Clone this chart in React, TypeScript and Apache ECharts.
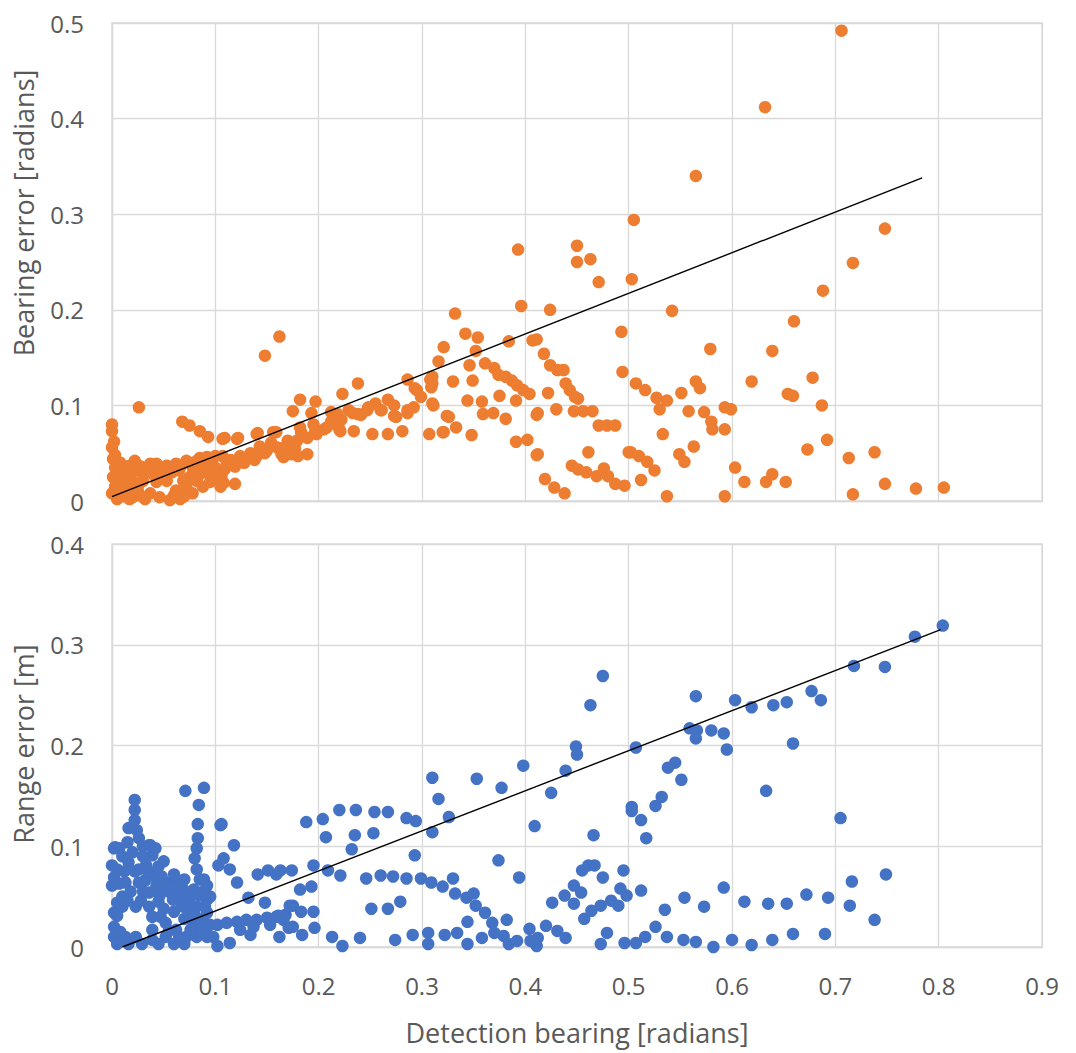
import React, { useEffect, useRef } from "react";
import * as echarts from "echarts";

// Detection bearing [radians] vs bearing error [radians]
const bearingErrorPoints: [number, number][] = [
  [0.000,0.080],[0.000,0.073],[0.000,0.056],[0.001,0.044],[0.003,0.035],[0.001,0.025],[0.003,0.015],[0.002,0.062],
  [0.000,0.008],[0.005,0.002],[0.010,0.010],[0.012,0.005],[0.007,0.008],[0.017,0.002],[0.027,0.006],[0.037,0.008],
  [0.046,0.004],[0.056,0.001],[0.066,0.002],[0.062,0.011],[0.072,0.015],[0.082,0.021],[0.085,0.028],[0.092,0.032],
  [0.098,0.025],[0.075,0.025],[0.069,0.021],[0.053,0.021],[0.043,0.020],[0.030,0.021],[0.014,0.018],[0.007,0.025],
  [0.014,0.032],[0.030,0.028],[0.026,0.098],[0.022,0.042],[0.022,0.032],[0.020,0.021],[0.037,0.039],[0.043,0.039],
  [0.053,0.037],[0.062,0.039],[0.072,0.042],[0.082,0.042],[0.092,0.046],[0.100,0.047],[0.068,0.083],[0.075,0.079],
  [0.085,0.073],[0.093,0.067],[0.107,0.065],[0.121,0.065],[0.140,0.070],[0.156,0.072],[0.105,0.015],[0.119,0.018],
  [0.020,0.012],[0.025,0.015],[0.033,0.030],[0.040,0.028],[0.048,0.031],[0.058,0.030],[0.065,0.032],[0.078,0.035],
  [0.088,0.038],[0.095,0.040],[0.011,0.030],[0.008,0.040],[0.016,0.026],[0.050,0.026],[0.004,0.012],[0.020,0.004],
  [0.032,0.002],[0.078,0.008],[0.005,0.005],[0.015,0.008],[0.025,0.010],[0.060,0.006],[0.070,0.005],[0.088,0.015],
  [0.095,0.020],[0.045,0.035],[0.055,0.033],[0.035,0.034],[0.028,0.036],[0.017,0.037],[0.003,0.048],[0.010,0.020],
  [0.085,0.045],[0.075,0.040],[0.066,0.036],[0.090,0.030],[0.100,0.035],[0.080,0.028],
  [0.111,0.039],[0.121,0.042],[0.130,0.044],[0.140,0.047],[0.150,0.053],[0.160,0.056],[0.169,0.058],[0.179,0.063],
  [0.189,0.066],[0.198,0.070],[0.208,0.077],[0.215,0.084],[0.218,0.091],[0.107,0.047],[0.115,0.043],[0.124,0.047],
  [0.134,0.050],[0.143,0.057],[0.154,0.061],[0.148,0.050],[0.138,0.043],[0.128,0.040],[0.119,0.036],[0.109,0.033],
  [0.106,0.026],[0.170,0.050],[0.180,0.047],[0.177,0.055],[0.164,0.049],[0.174,0.049],[0.189,0.049],[0.108,0.019],
  [0.148,0.152],[0.162,0.172],[0.182,0.106],[0.197,0.104],[0.175,0.094],[0.193,0.092],[0.109,0.066],[0.122,0.066],
  [0.141,0.071],[0.159,0.072],[0.170,0.063],[0.183,0.072],[0.196,0.071],[0.182,0.077],[0.195,0.080],[0.166,0.046],
  [0.205,0.075],[0.212,0.083],[0.220,0.075],[0.234,0.073],[0.252,0.070],[0.267,0.070],[0.281,0.073],[0.223,0.112],
  [0.238,0.123],[0.222,0.085],[0.233,0.092],[0.241,0.090],[0.247,0.095],[0.255,0.102],[0.267,0.106],[0.273,0.100],
  [0.260,0.095],[0.273,0.089],[0.286,0.095],[0.292,0.098],[0.286,0.127],[0.295,0.116],[0.299,0.109],[0.212,0.093],
  [0.229,0.095],[0.238,0.091],[0.248,0.098],[0.261,0.095],[0.275,0.088],[0.286,0.092],[0.293,0.118],[0.221,0.073],
  [0.216,0.081],
  [0.307,0.070],[0.320,0.072],[0.308,0.127],[0.310,0.102],[0.316,0.146],[0.324,0.089],[0.332,0.196],[0.342,0.175],
  [0.354,0.171],[0.321,0.161],[0.352,0.157],[0.346,0.142],[0.384,0.167],[0.361,0.144],[0.370,0.139],[0.374,0.132],
  [0.381,0.130],[0.387,0.126],[0.392,0.121],[0.398,0.116],[0.310,0.130],[0.310,0.123],[0.309,0.119],[0.330,0.125],
  [0.349,0.126],[0.375,0.110],[0.344,0.105],[0.358,0.104],[0.391,0.105],[0.359,0.091],[0.369,0.092],[0.381,0.086],
  [0.311,0.100],[0.326,0.088],[0.333,0.077],[0.348,0.069],[0.321,0.072],[0.391,0.062],[0.393,0.263],[0.396,0.204],
  [0.404,0.112],[0.407,0.168],[0.411,0.169],[0.418,0.154],[0.424,0.142],[0.431,0.137],[0.437,0.137],[0.439,0.123],
  [0.443,0.116],[0.448,0.109],[0.451,0.107],[0.422,0.113],[0.430,0.096],[0.447,0.094],[0.456,0.094],[0.465,0.094],
  [0.411,0.090],[0.402,0.064],[0.411,0.048],[0.419,0.023],[0.428,0.014],[0.438,0.008],[0.445,0.037],[0.451,0.033],
  [0.459,0.030],[0.469,0.026],[0.476,0.034],[0.480,0.026],[0.487,0.018],[0.496,0.016],[0.461,0.051],[0.471,0.079],
  [0.479,0.079],[0.487,0.079],[0.424,0.200],[0.450,0.267],[0.450,0.250],[0.463,0.253],[0.471,0.229],[0.493,0.177],
  [0.494,0.135],[0.412,0.092],[0.500,0.051],[0.412,0.049],
  [0.505,0.294],[0.503,0.232],[0.507,0.123],[0.516,0.116],[0.527,0.108],[0.537,0.105],[0.530,0.096],[0.551,0.113],
  [0.565,0.125],[0.569,0.118],[0.558,0.094],[0.573,0.093],[0.580,0.083],[0.581,0.075],[0.593,0.075],[0.593,0.098],
  [0.599,0.096],[0.542,0.199],[0.565,0.340],[0.579,0.159],[0.533,0.070],[0.502,0.051],[0.510,0.047],[0.518,0.041],
  [0.525,0.032],[0.512,0.022],[0.537,0.005],[0.549,0.049],[0.554,0.041],[0.563,0.057],[0.593,0.005],
  [0.603,0.035],[0.612,0.020],[0.633,0.020],[0.639,0.028],[0.652,0.020],[0.673,0.054],[0.692,0.064],[0.713,0.045],
  [0.717,0.007],[0.738,0.051],[0.748,0.018],[0.778,0.013],[0.805,0.014],[0.619,0.125],[0.654,0.112],[0.659,0.110],
  [0.678,0.129],[0.687,0.100],[0.660,0.188],[0.639,0.157],[0.688,0.220],[0.717,0.249],[0.748,0.285],[0.632,0.412],
  [0.706,0.492],
];

// Detection bearing [radians] vs range error [m]
const rangeErrorPoints: [number, number][] = [
  [0.022,0.146],[0.022,0.136],[0.022,0.126],[0.024,0.116],[0.016,0.118],[0.026,0.108],[0.015,0.104],[0.002,0.098],
  [0.007,0.098],[0.000,0.081],[0.002,0.069],[0.000,0.061],[0.005,0.077],[0.005,0.044],[0.002,0.034],[0.002,0.020],
  [0.002,0.010],[0.005,0.003],[0.016,0.003],[0.023,0.010],[0.013,0.010],[0.036,0.101],[0.039,0.091],[0.033,0.081],
  [0.022,0.075],[0.013,0.064],[0.026,0.064],[0.026,0.077],[0.016,0.084],[0.039,0.071],[0.043,0.061],[0.052,0.064],
  [0.062,0.064],[0.069,0.057],[0.079,0.057],[0.085,0.051],[0.092,0.047],[0.059,0.047],[0.046,0.051],[0.036,0.054],
  [0.036,0.040],[0.039,0.030],[0.039,0.017],[0.039,0.007],[0.052,0.024],[0.052,0.010],[0.062,0.017],[0.072,0.010],
  [0.082,0.010],[0.079,0.024],[0.069,0.040],[0.082,0.040],[0.092,0.034],[0.023,0.040],[0.084,0.141],[0.083,0.122],
  [0.083,0.108],[0.082,0.098],[0.080,0.088],[0.082,0.077],[0.085,0.067],[0.092,0.061],[0.071,0.155],[0.089,0.158],
  [0.105,0.121],[0.108,0.088],[0.103,0.081],[0.010,0.090],[0.012,0.075],[0.018,0.055],[0.010,0.050],[0.030,0.055],
  [0.030,0.090],[0.045,0.080],[0.048,0.070],[0.055,0.055],[0.065,0.050],[0.075,0.047],[0.060,0.035],[0.070,0.028],
  [0.088,0.028],[0.095,0.022],[0.085,0.018],[0.045,0.003],[0.060,0.003],[0.070,0.003],[0.029,0.003],[0.005,0.031],
  [0.037,0.101],[0.003,0.099],[0.007,0.063],[0.070,0.067],[0.010,0.040],[0.015,0.046],[0.028,0.046],[0.032,0.066],
  [0.045,0.045],[0.050,0.038],[0.058,0.058],[0.066,0.045],[0.075,0.038],[0.090,0.040],[0.080,0.032],[0.055,0.016],
  [0.047,0.030],[0.072,0.052],[0.060,0.072],[0.050,0.085],[0.042,0.098],[0.030,0.100],[0.020,0.094],[0.035,0.075],
  [0.048,0.058],[0.098,0.010],[0.008,0.015],[0.095,0.050],[0.088,0.055],[0.065,0.010],[0.076,0.017],
  [0.106,0.122],[0.118,0.101],[0.114,0.077],[0.121,0.064],[0.089,0.067],[0.188,0.124],[0.204,0.127],[0.207,0.109],
  [0.220,0.136],[0.236,0.136],[0.235,0.111],[0.253,0.113],[0.254,0.134],[0.267,0.134],[0.232,0.097],[0.285,0.128],
  [0.294,0.125],[0.310,0.114],[0.293,0.091],[0.141,0.072],[0.151,0.076],[0.163,0.076],[0.174,0.076],[0.159,0.072],
  [0.195,0.081],[0.209,0.076],[0.221,0.071],[0.246,0.068],[0.260,0.071],[0.272,0.070],[0.285,0.068],[0.299,0.068],
  [0.309,0.064],[0.320,0.060],[0.182,0.057],[0.193,0.060],[0.132,0.049],[0.148,0.044],[0.175,0.041],[0.183,0.035],
  [0.195,0.035],[0.196,0.019],[0.168,0.032],[0.251,0.038],[0.267,0.038],[0.279,0.045],[0.162,0.010],[0.184,0.012],
  [0.213,0.010],[0.223,0.001],[0.240,0.009],[0.274,0.007],[0.291,0.012],[0.306,0.014],[0.306,0.003],[0.322,0.012],
  [0.102,0.001],[0.114,0.004],[0.102,0.022],[0.111,0.024],[0.121,0.025],[0.130,0.027],[0.140,0.027],[0.150,0.029],
  [0.159,0.030],[0.092,0.020],[0.092,0.010],[0.124,0.017],[0.137,0.020],[0.153,0.022],[0.166,0.027],[0.134,0.012],
  [0.171,0.019],[0.175,0.020],[0.172,0.041],[0.161,0.031],
  [0.310,0.168],[0.353,0.167],[0.398,0.180],[0.377,0.158],[0.439,0.175],[0.316,0.147],[0.326,0.129],[0.425,0.153],
  [0.409,0.120],[0.466,0.111],[0.330,0.068],[0.332,0.053],[0.343,0.049],[0.350,0.053],[0.352,0.041],[0.361,0.034],
  [0.368,0.024],[0.374,0.086],[0.394,0.069],[0.344,0.025],[0.382,0.027],[0.334,0.014],[0.344,0.003],[0.358,0.009],
  [0.370,0.014],[0.379,0.011],[0.384,0.003],[0.392,0.006],[0.404,0.018],[0.411,0.001],[0.405,0.006],[0.420,0.021],
  [0.431,0.016],[0.439,0.009],[0.426,0.044],[0.438,0.051],[0.447,0.061],[0.454,0.054],[0.447,0.043],[0.455,0.076],
  [0.461,0.081],[0.467,0.081],[0.475,0.069],[0.495,0.076],[0.457,0.028],[0.464,0.036],[0.473,0.041],[0.483,0.046],
  [0.490,0.041],[0.492,0.058],[0.498,0.051],[0.479,0.014],[0.473,0.003],[0.496,0.004],[0.475,0.269],[0.463,0.240],
  [0.449,0.199],[0.450,0.191],[0.412,0.009],
  [0.804,0.319],[0.777,0.308],[0.718,0.279],[0.748,0.278],[0.565,0.249],[0.603,0.245],[0.619,0.238],[0.640,0.240],
  [0.653,0.243],[0.677,0.254],[0.686,0.245],[0.559,0.217],[0.566,0.215],[0.565,0.207],[0.580,0.215],[0.592,0.212],
  [0.595,0.196],[0.659,0.202],[0.507,0.198],[0.538,0.178],[0.545,0.183],[0.551,0.166],[0.633,0.155],[0.503,0.139],
  [0.503,0.135],[0.512,0.126],[0.517,0.108],[0.526,0.140],[0.532,0.149],[0.705,0.128],[0.512,0.056],[0.507,0.004],
  [0.516,0.010],[0.526,0.020],[0.537,0.010],[0.535,0.037],[0.553,0.007],[0.565,0.005],[0.554,0.049],[0.573,0.040],
  [0.582,0.000],[0.592,0.059],[0.600,0.007],[0.612,0.045],[0.619,0.002],[0.635,0.043],[0.639,0.007],[0.653,0.043],
  [0.659,0.013],[0.672,0.052],[0.690,0.013],[0.693,0.049],[0.714,0.041],[0.716,0.065],[0.738,0.027],[0.749,0.072],
];

// Linear trend lines (endpoints)
const bearingTrend: [number, number][] = [[0.0, 0.0045], [0.784, 0.338]];
const rangeTrend: [number, number][] = [[0.010, 0.0], [0.802, 0.315]];

const xTickMax = 0.9;
const bearingYMax = 0.5;
const rangeYMax = 0.4;
const tickStep = 0.1;

const xAxisTitle = "Detection bearing [radians]";
const bearingTitle = "Bearing error [radians]";
const rangeTitle = "Range error [m]";

const FONT = "'Segoe UI', 'Open Sans', 'Noto Sans', sans-serif";
const TEXT = "#595959";
const GRIDC = "#d9d9d9";

export default function App() {
  const ref = useRef<HTMLDivElement>(null);
  useEffect(() => {
    if (!ref.current) return;
    const chart = echarts.init(ref.current, undefined, { renderer: "svg" });
    const axisCommon = {
      type: "value" as const,
      min: 0,
      interval: tickStep,
      axisTick: { show: false },
      axisLine: { show: true, lineStyle: { color: GRIDC, width: 1.3 } },
      splitLine: { show: true, lineStyle: { color: GRIDC, width: 1.3 } },
    };
    const tickLabel = { color: TEXT, fontSize: 24, fontFamily: FONT };
    const titleStyle = { fill: TEXT, fontSize: 27, fontFamily: FONT };
    chart.setOption({
      animation: false,
      backgroundColor: "#ffffff",
      textStyle: { fontFamily: FONT },
      grid: [
        { left: 112, top: 23, width: 930, height: 478, show: true, borderColor: GRIDC, borderWidth: 1.3 },
        { left: 112, top: 544, width: 930, height: 403, show: true, borderColor: GRIDC, borderWidth: 1.3 },
      ],
      xAxis: [
        { ...axisCommon, gridIndex: 0, max: xTickMax, axisLabel: { show: false } },
        { ...axisCommon, gridIndex: 1, max: xTickMax, axisLabel: { ...tickLabel, margin: 26 } },
      ],
      yAxis: [
        { ...axisCommon, gridIndex: 0, max: bearingYMax, axisLabel: { ...tickLabel, margin: 28 } },
        { ...axisCommon, gridIndex: 1, max: rangeYMax, axisLabel: { ...tickLabel, margin: 28 } },
      ],
      graphic: [
        {
          type: "text",
          x: 23,
          y: 213,
          rotation: Math.PI / 2,
          style: { ...titleStyle, text: bearingTitle, align: "center", verticalAlign: "middle", textAlign: "center", textVerticalAlign: "middle" },
        },
        {
          type: "text",
          x: 23,
          y: 744,
          rotation: Math.PI / 2,
          style: { ...titleStyle, text: rangeTitle, align: "center", verticalAlign: "middle", textAlign: "center", textVerticalAlign: "middle" },
        },
        {
          type: "text",
          x: 577,
          y: 1032,
          style: { ...titleStyle, text: xAxisTitle, align: "center", verticalAlign: "middle", textAlign: "center", textVerticalAlign: "middle" },
        },
      ],
      series: [
        {
          type: "scatter",
          xAxisIndex: 0,
          yAxisIndex: 0,
          data: bearingErrorPoints,
          symbolSize: 12.5,
          itemStyle: { color: "#ED7D31", opacity: 1 },
          z: 2,
        },
        {
          type: "line",
          xAxisIndex: 0,
          yAxisIndex: 0,
          data: bearingTrend,
          showSymbol: false,
          lineStyle: { color: "#000000", width: 1.4 },
          z: 3,
        },
        {
          type: "scatter",
          xAxisIndex: 1,
          yAxisIndex: 1,
          data: rangeErrorPoints,
          symbolSize: 12.5,
          itemStyle: { color: "#4472C4", opacity: 1 },
          z: 2,
        },
        {
          type: "line",
          xAxisIndex: 1,
          yAxisIndex: 1,
          data: rangeTrend,
          showSymbol: false,
          lineStyle: { color: "#000000", width: 1.4 },
          z: 3,
        },
      ],
    });
    return () => chart.dispose();
  }, []);
  return (
    <div
      ref={ref}
      style={{ position: "absolute", left: 0, top: 0, width: 1076, height: 1053, background: "#fff" }}
    />
  );
}
